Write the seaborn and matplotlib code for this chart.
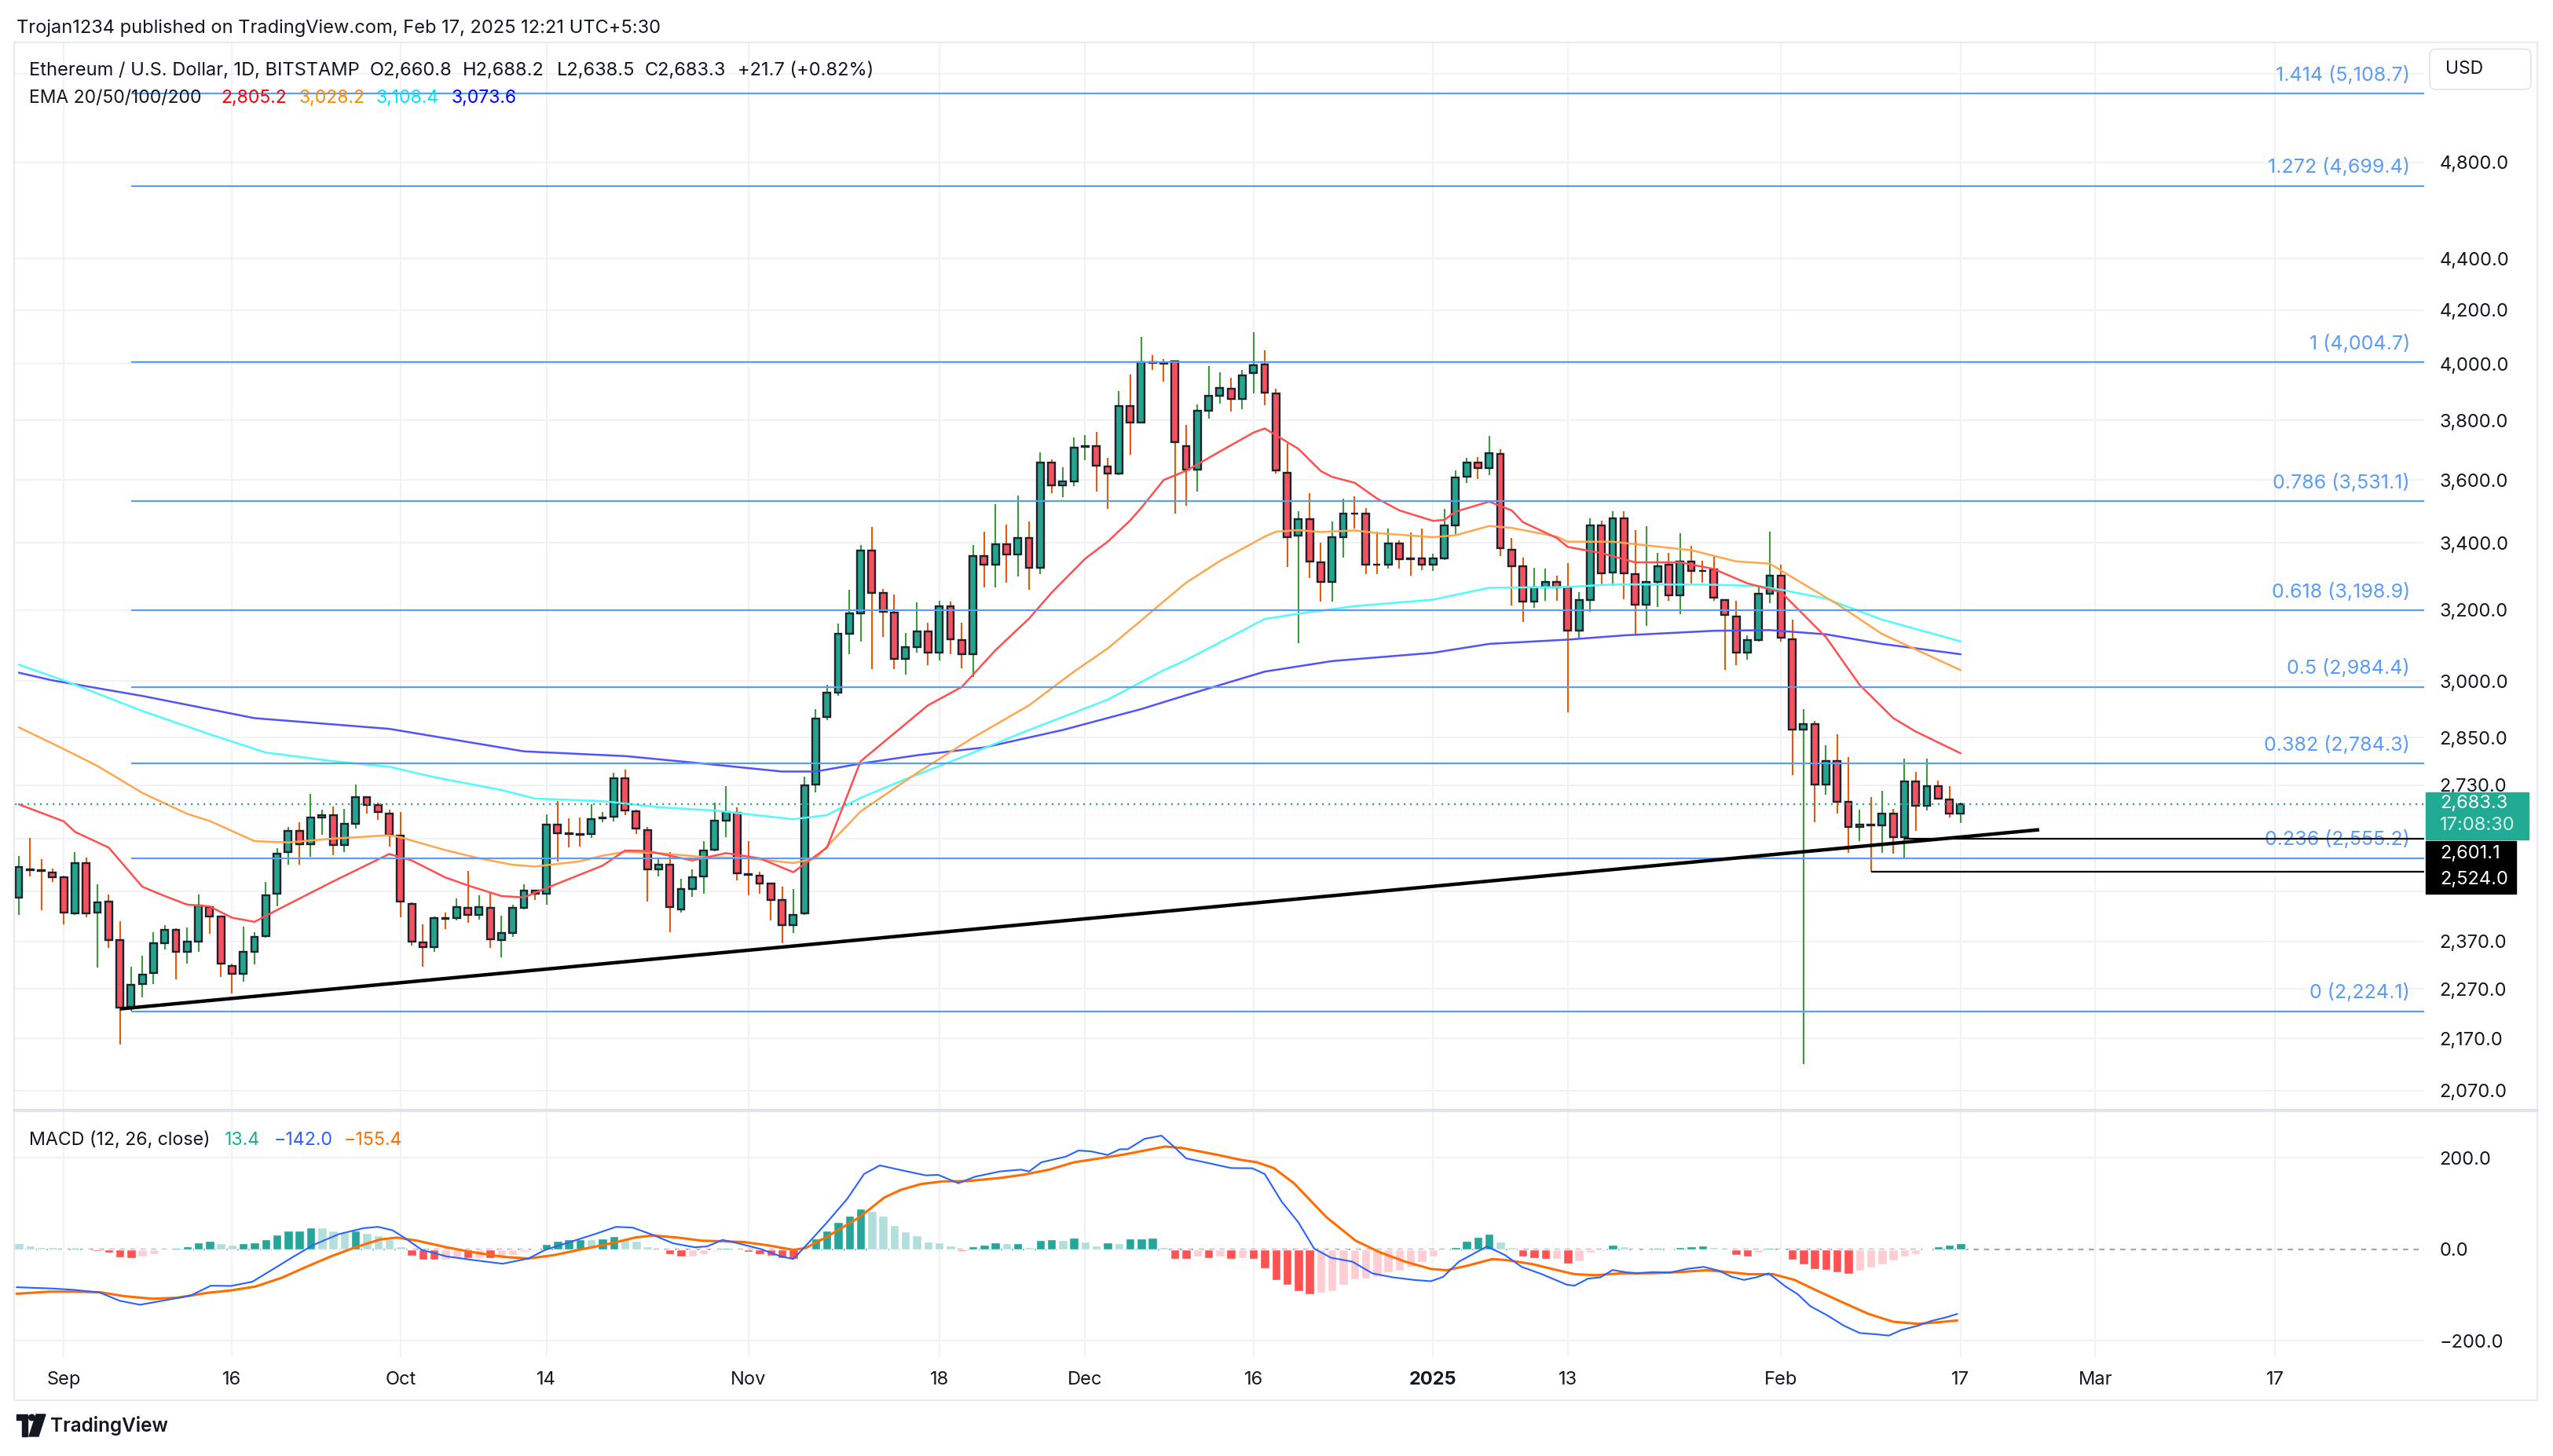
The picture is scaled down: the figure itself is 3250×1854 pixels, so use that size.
import numpy as np
import pandas as pd
import matplotlib
matplotlib.use("Agg")
import matplotlib.pyplot as plt
import matplotlib.transforms as mtransforms
from matplotlib.patches import Rectangle, FancyBboxPatch, Polygon, Circle
from matplotlib.lines import Line2D
from matplotlib.ticker import FixedLocator, NullLocator
import seaborn as sns

# ETH / USD daily candles, 28 Aug 2024 .. 17 Feb 2025
first_day = "2024-08-28"
opens = [2465, 2530, 2528, 2522, 2512, 2430, 2544, 2433, 2456, 2373, 2234, 2280, 2302, 2366, 2395, 2347, 2369,
         2445, 2424, 2318, 2301, 2348, 2381, 2474, 2569, 2619, 2588, 2652, 2656, 2586, 2637, 2700, 2682, 2661,
         2609, 2451, 2367, 2357, 2420, 2420, 2443, 2428, 2443, 2373, 2388, 2443, 2481, 2475, 2634, 2614, 2612,
         2612, 2650, 2653, 2747, 2666, 2622, 2529, 2540, 2440, 2485, 2513, 2575, 2643, 2662, 2519, 2515, 2497,
         2460, 2404, 2430, 2731, 2904,
         2968, 3131, 3189, 3378, 3249, 3193, 3061, 3093, 3138, 3079, 3211, 3113, 3074, 3361, 3335, 3397, 3365,
         3415, 3324, 3658, 3583, 3596,
         3710, 3712, 3645, 3620, 3849, 3792, 4005, 4002, 4008, 3713, 3634, 3833, 3884, 3910, 3875, 3965, 3997,
         3894, 3624, 3423, 3474, 3342, 3283, 3419, 3493, 3493, 3335, 3333, 3399, 3352, 3352,
         3333, 3353, 3454, 3610, 3658, 3638, 3686, 3380, 3329, 3224, 3267, 3283, 3266,
         3141, 3230, 3455, 3310, 3477, 3305, 3216, 3283, 3334, 3243, 3343, 3316, 3320, 3230, 3182, 3078, 3113,
         3248, 3301, 3117, 2872, 2885, 2732, 2790, 2689, 2628, 2635, 2632, 2661, 2604, 2740, 2679, 2728, 2695,
         2661]
highs = [2560, 2603, 2553, 2532, 2516, 2570, 2556, 2496, 2472, 2413, 2316, 2339, 2390, 2405, 2398, 2400, 2472,
         2447, 2426, 2323, 2402, 2390, 2501, 2578, 2628, 2639, 2709, 2670, 2678, 2672, 2732, 2703, 2688, 2671,
         2665, 2455, 2406, 2423, 2432, 2463, 2526, 2470, 2476, 2425, 2450, 2496, 2483, 2658, 2692, 2650, 2652,
         2683, 2665, 2760, 2768, 2670, 2628, 2553, 2570, 2508, 2529, 2596, 2688, 2727, 2675, 2596, 2524, 2499,
         2491, 2485, 2752, 2925, 2990,
         3161, 3260, 3394, 3450, 3262, 3245, 3134, 3222, 3163, 3226, 3224, 3163, 3393, 3434, 3523, 3458, 3550,
         3466, 3690, 3668, 3641, 3741,
         3749, 3760, 3672, 3902, 3961, 4097, 4031, 4017, 4010, 3785, 3856, 3992, 3970, 3950, 3978, 4116, 4048,
         3911, 3721, 3499, 3557, 3402, 3466, 3539, 3546, 3510, 3436, 3445, 3409, 3432, 3446,
         3368, 3508, 3630, 3673, 3676, 3747, 3703, 3416, 3356, 3325, 3321, 3301, 3338,
         3253, 3477, 3470, 3500, 3500, 3440, 3452, 3369, 3369, 3431, 3391, 3346, 3359, 3232, 3226, 3128, 3269,
         3435, 3334, 3171, 2925, 2893, 2831, 2858, 2800, 2671, 2700, 2716, 2672, 2797, 2762, 2797, 2742, 2727,
         2688]
lows = [2427, 2514, 2437, 2500, 2406, 2428, 2422, 2314, 2355, 2158, 2225, 2252, 2280, 2352, 2289, 2323, 2347,
        2386, 2294, 2261, 2285, 2320, 2378, 2447, 2540, 2540, 2558, 2610, 2563, 2569, 2624, 2660, 2645, 2582,
        2422, 2360, 2316, 2347, 2396, 2415, 2410, 2417, 2355, 2336, 2380, 2440, 2460, 2450, 2547, 2580, 2582,
        2602, 2640, 2642, 2657, 2611, 2456, 2514, 2390, 2433, 2468, 2475, 2571, 2605, 2505, 2470, 2475, 2415,
        2365, 2388, 2428, 2712, 2895,
        2960, 3074, 3110, 3032, 3122, 3032, 3018, 3079, 3043, 3057, 3074, 3036, 3011, 3266, 3266, 3280, 3299,
        3259, 3305, 3558, 3545, 3579,
        3666, 3562, 3508, 3615, 3684, 3790, 3977, 3934, 3492, 3516, 3561, 3806, 3858, 3830, 3838, 3894, 3851,
        3622, 3328, 3104, 3295, 3224, 3224, 3356, 3445, 3305, 3305, 3323, 3322, 3300, 3317,
        3315, 3349, 3429, 3590, 3603, 3615, 3361, 3213, 3165, 3205, 3226, 3226, 2917,
        3120, 3195, 3270, 3270, 3232, 3130, 3154, 3208, 3226, 3188, 3277, 3280, 3226, 3030, 3043, 3058, 3109,
        3220, 3109, 2755, 2120, 2640, 2707, 2661, 2568, 2595, 2524, 2568, 2565, 2555, 2620, 2668, 2694, 2652,
        2638]
closes = [2535, 2528, 2526, 2512, 2433, 2544, 2430, 2455, 2373, 2231, 2278, 2299, 2366, 2395, 2347, 2369, 2448,
          2424, 2323, 2301, 2347, 2380, 2470, 2566, 2620, 2588, 2651, 2656, 2586, 2636, 2700, 2682, 2664, 2610,
          2456, 2370, 2357, 2420, 2418, 2445, 2428, 2444, 2374, 2388, 2443, 2481, 2475, 2634, 2614, 2612, 2610,
          2648, 2652, 2747, 2669, 2624, 2529, 2540, 2444, 2484, 2511, 2573, 2643, 2664, 2520, 2517, 2498, 2460,
          2404, 2427, 2730, 2900, 2968,
          3131, 3189, 3378, 3249, 3195, 3061, 3093, 3138, 3079, 3211, 3115, 3074, 3361, 3335, 3397, 3364, 3415,
          3324, 3658, 3583, 3596, 3708,
          3712, 3646, 3620, 3849, 3793, 4005, 4004, 4000, 3726, 3634, 3833, 3884, 3912, 3875, 3958, 3994, 3897,
          3630, 3419, 3474, 3344, 3283, 3419, 3493, 3492, 3335, 3333, 3399, 3351, 3350, 3335,
          3353, 3454, 3607, 3658, 3638, 3688, 3384, 3330, 3224, 3267, 3283, 3267, 3141,
          3230, 3455, 3307, 3477, 3307, 3216, 3283, 3330, 3243, 3343, 3316, 3314, 3235, 3186, 3078, 3113, 3248,
          3301, 3120, 2872, 2886, 2732, 2790, 2690, 2628, 2635, 2632, 2661, 2604, 2740, 2679, 2727, 2696, 2661,
          2683]

# EMA lines, sampled points (day = days after 1 Sep 2024)
ema20_day = [-4, 0, 1, 4, 7, 9, 11, 13, 15, 17, 19, 24, 29, 31, 34, 36, 39, 41, 43, 48, 50, 52, 56, 59, 62, 65,
             68, 71, 77, 80, 83, 86, 88, 91, 93, 95, 96, 98, 100, 103, 106, 107, 110, 112, 113, 115, 117, 119,
             122, 123, 124, 127, 129, 130, 133, 134, 137, 140, 144, 147, 150, 153, 157, 160, 163, 165, 169]
ema20 = [2683, 2642, 2617, 2580, 2490, 2469, 2450, 2446, 2421, 2412, 2438, 2502, 2565, 2550, 2511, 2493, 2469,
         2466, 2487, 2538, 2573, 2572, 2550, 2567, 2555, 2523, 2580, 2790, 2935, 2984, 3085, 3175, 3250, 3352,
         3404, 3470, 3510, 3600, 3630, 3694, 3758, 3772, 3703, 3629, 3610, 3591, 3540, 3502, 3469, 3472, 3498,
         3530, 3502, 3465, 3416, 3388, 3369, 3341, 3341, 3321, 3278, 3252, 3122, 2990, 2901, 2866, 2810]
ema50_day = [-4, 0, 3, 7, 11, 13, 17, 20, 24, 29, 30, 34, 37, 40, 42, 46, 48, 50, 53, 57, 61, 65, 67, 71, 76, 81,
             86, 90, 93, 96, 98, 100, 103, 107, 108, 110, 112, 115, 117, 122, 124, 127, 129, 133, 134, 138, 145,
             149, 152, 154, 158, 162, 169]
ema50 = [2877, 2821, 2778, 2711, 2660, 2643, 2595, 2592, 2601, 2609, 2604, 2574, 2555, 2540, 2536, 2548, 2561,
         2570, 2567, 2558, 2555, 2544, 2555, 2666, 2760, 2850, 2935, 3026, 3090, 3170, 3225, 3280, 3345, 3420,
         3435, 3440, 3434, 3439, 3431, 3418, 3424, 3453, 3447, 3420, 3404, 3404, 3378, 3344, 3337, 3296, 3217,
         3131, 3030]
ema100_day = [-4, 0, 7, 13, 18, 24, 29, 33, 39, 42, 48, 53, 58, 65, 68, 71, 75, 80, 86, 93, 98, 100, 107, 110,
              115, 122, 127, 134, 138, 147, 151, 153, 157, 162, 169]
ema100 = [3045, 3002, 2920, 2859, 2812, 2790, 2776, 2750, 2718, 2697, 2691, 2676, 2668, 2647, 2657, 2699, 2745,
          2800, 2870, 2950, 3030, 3058, 3174, 3189, 3211, 3230, 3265, 3267, 3275, 3274, 3270, 3259, 3233, 3172,
          3110]
ema200_day = [-4, -1, 7, 17, 29, 41, 50, 57, 64, 67, 71, 76, 82, 89, 96, 100, 107, 113, 122, 127, 134, 139, 147,
              152, 157, 162, 169]
ema200 = [3023, 3002, 2960, 2901, 2873, 2815, 2803, 2784, 2764, 2764, 2784, 2805, 2825, 2870, 2925, 2962, 3026,
          3055, 3078, 3103, 3115, 3127, 3140, 3142, 3130, 3103, 3074]

# Fibonacci retracement levels
fib_ratio = [1.414, 1.272, 1, 0.786, 0.618, 0.5, 0.382, 0.236, 0]
fib_price = [5108.7, 4699.4, 4004.7, 3531.1, 3198.9, 2984.4, 2784.3, 2555.2, 2224.1]
fib_start = "2024-09-07"

# trend line and horizontal levels
trend_dates = ["2024-09-06", "2025-02-24"]
trend_price = [2229, 2622]
level_price = [2601.1, 2524.0]
level_start = ["2025-02-12", "2025-02-09"]
last_price = 2683.3

# MACD (12, 26, close)
hist = [12.6, 6.9, 5, 4, -3.4, 2.9, -2.9, -4, -7.4, -17.7,
        -18.9, -16, -10.3, -2, 3.4, 5.7, 14.3, 17.7, 13.7, 10.3,
        12.6, 15.4, 21.1, 32, 40, 41.1, 46.8, 46.8, 41.1, 36.6,
        40, 35.4, 29.7, 21.1, 5.7, -14.3, -22.9, -24, -22.9, -18.9,
        -20, -18.9, -20, -17.7, -13.7, -5.7, 1, 11.4, 18.3, 21.1,
        22.3, 22.3, 24, 28.6, 24, 18.3, 5.7, -2.9, -11.4, -17.1,
        -17.1, -11.4, -4.6, 2.9, -2.9, -6.3, -10.3, -14.9, -20, -20.6,
        1.1, 24, 41.1, 59.4, 73.7, 88.6, 84, 73.7, 52.6, 38.3,
        29.7, 16.6, 15.4, 6.9, -4.6, 5.7, 9.7, 14.3, 12.6, 13.7,
        4, 20, 21.1, 19.4, 25.1, 16.6, 8, 14.3, 12.6, 22.9,
        24, 25.1, 4, -20.6, -21.7, -16, -18.9, -16, -21.7, -18.9,
        -20.6, -41.7, -67.4, -78.9,
        -91.4, -98.9, -95, -91.4, -77.7, -66.3, -64.6, -61.7, -51.4, -47.4,
        -38.9, -28.6, -16, -2.3, 4, 18.3, 26.9, 33.7, 16.6, 4,
        -16, -20, -21.7, -21.7, -31.4, -27.4, -7.4, -4.6, 9.7, 5.7,
        -2.3, -1.1, 2.9, 1.1, 4, 5.7, 8, 4, -3.4, -13.7,
        -16, -7.4, 2.9, -3.4, -22.9, -33.1, -44.6, -46.3, -51.4, -54.9,
        -47.4, -40, -33.1, -24.6, -16, -10.3, 1.7, 5.7, 9.7, 13.4]
macd_day = [-4.2, -0.9, 0.9, 3.2, 5.0, 6.8, 9.0, 11.3, 13.1, 14.9, 16.8, 18.6, 20.5, 22.3, 24.5, 26.7, 28.0,
            29.3, 30.4, 31.9, 34.1, 36.3, 39.1, 41.4, 42.9, 45.1, 47.3, 49.2, 50.7, 52.5, 54.3, 56.2, 57.3, 58.7,
            59.9, 62.1, 63.9, 65.0, 66.1, 68.0, 69.8, 71.3, 72.7, 74.6, 76.8, 77.9, 79.7, 81.2, 83.4, 85.3, 86.0,
            87.1, 89.3, 90.4, 91.5, 93.0, 94.1, 94.8, 96.3, 97.8, 98.9, 100.0, 102.2, 104.0, 105.9, 107.0, 108.5,
            110.0, 111.4, 112.9, 114.8, 116.6, 118.4, 120.3, 121.8, 122.9, 124.3, 126.8, 128.4, 129.9, 131.7,
            133.9, 134.6, 135.8, 136.9, 138.0, 139.1, 140.2, 141.6, 143.1, 144.6, 146.1, 147.5, 148.6, 149.7,
            150.8, 151.9, 153.4, 154.5, 155.6, 157.1, 158.6, 160.0, 161.5, 162.6, 163.7, 165.2, 166.3, 167.8,
            168.7]
macd_line = [-83.4, -86.3, -89.1, -94.9, -113.1, -121.7, -112, -101.7, -80, -80.6, -71.4, -44.6, -16, 9.7, 32.6,
             45.7, 48.6, 41.1, 24, -1.7, -16, -23.4, -32, -20.6, -1.7, 15.4, 32.6, 48.6, 46.9, 30.9, 12.6, 4,
             5.7, 20, 13.7, 0, -16, -21.7, 6.9, 58.3, 109.7, 164, 182.9, 172.6, 161.1, 162.3, 144, 158.3, 169.7,
             173.7, 169.7, 189.7, 202.3, 215.4, 213.7, 205.7, 218.3, 218.3, 241.1, 248, 224, 198.3, 186.9, 177.1,
             176.6, 164, 104, 58.3, 1.1, -18.9, -27.4, -53.1, -61.7, -67.4, -70.3, -60.6, -27.4, 5.7, -13.1,
             -38.9, -54.9, -77.7, -80, -64.6, -61.7, -45.7, -50.3, -53.1, -50.3, -51.4, -43.4, -38.9, -47.4,
             -60.6, -67.4, -61.7, -53.1, -81.7, -98.9, -124.6, -144.6, -167.4, -183.4, -186.3, -189.1, -177.1,
             -167.4, -157.7, -148.6, -141.7]
signal_day = [-4.2, -1.3, 0.9, 3.2, 5.4, 7.9, 10.1, 12.7, 14.9, 17.1, 19.4, 21.6, 23.8, 26.0, 28.2, 29.7, 31.5,
              34.1, 36.3, 39.2, 41.4, 43.7, 45.9, 48.8, 51.0, 52.5, 54.7, 56.9, 58.7, 60.6, 62.8, 65.0, 66.1,
              68.0, 70.9, 73.1, 74.6, 76.4, 78.3, 80.5, 83.4, 85.6, 87.8, 90.0, 92.3, 94.5, 96.3, 98.1, 99.6,
              102.6, 104.8, 106.3, 107.8, 109.6, 112.5, 115.1, 117.3, 119.5, 121.8, 123.2, 125.1, 127.3, 128.7,
              130.9, 132.8, 134.6, 136.5, 138.7, 141.6, 143.9, 146.4, 148.3, 150.1, 152.3, 154.2, 156.4, 158.6,
              160.8, 163.0, 165.2, 167.0, 168.7]
signal_line = [-97.7, -93.1, -93.1, -94.3, -102.9, -108.6, -106.3, -96, -90.3, -81.7, -62.9, -38.9, -16, 4, 21.1,
               25.1, 18.3, 4, -6.3, -17.1, -20.6, -13.1, -1.7, 12.6, 25.7, 29.7, 25.1, 18.3, 17.1, 15.4, 8, -1.7,
               2.3, 26.9, 69.7, 112.6, 129.7, 142.3, 148, 148.6, 155.4, 162.9, 173.7, 189.7, 198.3, 206.9, 215.4,
               224, 221.1, 206.9, 195.4, 189.7, 177.1, 144, 69.7, 18.3, -7.4, -27.4, -43.4, -46.3, -36, -21.7,
               -24.6, -33.1, -44.6, -54.9, -57.1, -53.1, -52.6, -50.3, -46.3, -50.3, -54.9, -54.9, -67.4, -93.1,
               -117.7, -141.7, -158.9, -163.4, -160, -156]

# axis ticks
price_ticks = [5200, 4800, 4400, 4200, 4000, 3800, 3600, 3400, 3200, 3000, 2850, 2730, 2600, 2480, 2370, 2270,
               2170, 2070]
price_hidden = [5200, 2600, 2480]
date_ticks = ["2024-09-01", "2024-09-16", "2024-10-01", "2024-10-14", "2024-11-01", "2024-11-18", "2024-12-01",
              "2024-12-16", "2025-01-01", "2025-01-13", "2025-02-01", "2025-02-17", "2025-03-01", "2025-03-17"]
date_labels = ["Sep", "16", "Oct", "14", "Nov", "18", "Dec", "16", "2025", "13", "Feb", "17", "Mar", "17"]

# ---------------------------------------------------------------------------
sns.set_style("white")
plt.rcParams["font.family"] = ["Inter", "DejaVu Sans"]

TXT = "#131722"
GRID = "#f0f2f6"
FIB = "#5b9cf6"
UP_BODY, DN_BODY = "#22a58c", "#f5525f"
UP_WICK, DN_WICK = "#3c9a3c", "#e8590c"
EDGE = "#1e222d"

W, H = 3250, 1854
fig = plt.figure(figsize=(W / 100, H / 100), dpi=100)
fig.patch.set_facecolor("white")


def px(x, y):
    return (x, H - y)


L, R, T_, SEP, B = 19, 3086, 54, 1414, 1728
ax = fig.add_axes([L / W, 1 - SEP / H, (R - L) / W, (SEP - T_) / H])
axm = fig.add_axes([L / W, 1 - B / H, (R - L) / W, (B - SEP) / H], sharex=ax)

origin = pd.Timestamp("2024-09-01")
dates = pd.date_range(first_day, periods=len(closes), freq="D")
day = np.asarray((dates - origin).days)


def to_day(d):
    return np.asarray((pd.to_datetime(d) - origin).days)


o, h, l, c = map(np.asarray, (opens, highs, lows, closes))
up = c >= o

# candles
ax.vlines(day, l, h, colors=np.where(up, UP_WICK, DN_WICK), lw=1.5, zorder=2)
ax.bar(day, np.abs(c - o), bottom=np.minimum(o, c), width=0.62,
       color=np.where(up, UP_BODY, DN_BODY), edgecolor=EDGE, linewidth=1.7, zorder=3)

# EMAs
for xs, ys, col in [(ema200_day, ema200, "#5252ff"), (ema100_day, ema100, "#52fafa"),
                    (ema50_day, ema50, "#ffa64f"), (ema20_day, ema20, "#ff4f4f")]:
    sns.lineplot(x=xs, y=ys, ax=ax, color=col, lw=1.8, zorder=4)

ax.set_yscale("log")
x_lo, x_hi = -4.35, 210.3
ax.set_xlim(x_lo, x_hi)
ax.set_ylim(2033, 5352)

# fib levels
yblend = mtransforms.blended_transform_factory(ax.transAxes, ax.transData)
fs = to_day(fib_start).item()
ax.hlines(fib_price, fs, x_hi, color=FIB, lw=1.6, zorder=5)
for r, p in zip(fib_ratio, fib_price):
    ax.annotate(f"{r:g} ({p:,.1f})", xy=(1, p), xycoords=yblend, xytext=(-13, 17),
                textcoords="offset points", ha="right", va="center", color=FIB, fontsize=18, zorder=6)

# trend line, levels, last price
ax.plot(to_day(trend_dates), trend_price, color="black", lw=3.2, solid_capstyle="butt", zorder=6)
for p, s in zip(level_price, level_start):
    ax.hlines(p, to_day(s).item(), x_hi, color="black", lw=1.6, zorder=6)
ax.axhline(last_price, color="#22ab94", lw=1.6, ls=(0, (1, 2.6)), zorder=5)

# price axis
ax.yaxis.set_major_locator(FixedLocator(price_ticks))
ax.yaxis.set_minor_locator(NullLocator())
ax.set_yticklabels(["" if t in price_hidden else f"{t:,.1f}" for t in price_ticks])
ax.yaxis.tick_right()
ax.tick_params(axis="y", length=0, pad=14, labelsize=17, labelcolor=TXT)
ax.set_xticks(to_day(date_ticks))
ax.tick_params(axis="x", length=0, labelbottom=False)
ax.grid(True, color=GRID, lw=1.4)
ax.set_axisbelow(True)
for sp in ax.spines.values():
    sp.set_visible(False)
ax.set_xlabel("")
ax.set_ylabel("")

# MACD pane
hv = np.asarray(hist)
prev = np.concatenate([[hv[0]], hv[:-1]])
hcol = np.where(hv >= 0, np.where(hv > prev, "#26a69a", "#b2dfdb"),
                np.where(hv < prev, "#ff5252", "#ffcdd2"))
axm.bar(day, hv, width=0.8, color=hcol, zorder=2)
axm.axhline(0, color="#a3a6af", lw=1.6, ls=(0, (3, 3)), zorder=1)
for g in (200, -200):
    axm.axhline(g, color=GRID, lw=1.4, zorder=0)
sns.lineplot(x=macd_day, y=macd_line, ax=axm, color="#2962ff", lw=1.5, zorder=4)
sns.lineplot(x=signal_day, y=signal_line, ax=axm, color="#ff6d00", lw=2.2, zorder=3)
axm.set_ylim(-236, 303)
axm.set_xlim(x_lo, x_hi)
axm.set_yticks([200, 0, -200])
axm.set_yticklabels(["200.0", "0.0", "\u2212200.0"])
axm.yaxis.tick_right()
axm.tick_params(axis="y", length=0, pad=14, labelsize=17, labelcolor=TXT)
axm.set_xticks(to_day(date_ticks))
axm.set_xticklabels(date_labels)
axm.tick_params(axis="x", length=0, pad=13, labelsize=17, labelcolor=TXT)
for lab in axm.get_xticklabels():
    if lab.get_text() == "2025":
        lab.set_fontweight("bold")
axm.grid(True, axis="x", color=GRID, lw=1.4)
axm.set_axisbelow(True)
for sp in axm.spines.values():
    sp.set_visible(False)
axm.set_xlabel("")
axm.set_ylabel("")

# frame and pane separator
ident = mtransforms.IdentityTransform()
frame = "#e6e9ef"
for (x0, y0), (x1, y1) in [((18, 54), (3230, 54)), ((18, 54), (18, 1783)), ((3230, 54), (3230, 1783)),
                           ((18, 1783), (3230, 1783))]:
    fig.add_artist(Line2D([x0, x1], [H - y0, H - y1], color=frame, lw=1.5, transform=ident))
fig.add_artist(Line2D([18, 3230], [H - 1414, H - 1414], color="#e0e3eb", lw=3, transform=ident))

# header and legends
fig.text(21 / W, 1 - 36 / H, "Trojan1234 published on TradingView.com, Feb 17, 2025 12:21 UTC+5:30",
         fontsize=17, color=TXT, va="center")
for x, s in [(37, "Ethereum / U.S. Dollar, 1D, BITSTAMP"), (471, "O2,660.8"), (589, "H2,688.2"),
             (709, "L2,638.5"), (821, "C2,683.3"), (939, "+21.7 (+0.82%)")]:
    fig.text(x / W, 1 - 90 / H, s, fontsize=17, color=TXT, va="center")
for x, s, col in [(37, "EMA 20/50/100/200", TXT), (281, "2,805.2", "#ff0000"), (381, "3,028.2", "#ff8c00"),
                  (478, "3,108.4", "#00e5ff"), (574, "3,073.6", "#0000ff")]:
    fig.text(x / W, 1 - 125 / H, s, fontsize=16.5, color=col, va="center")
for x, s, col in [(37, "MACD (12, 26, close)", TXT), (286, "13.4", "#22ab94"), (349, "\u2212142.0", "#2962ff"),
                  (438, "\u2212155.4", "#ff6d00")]:
    fig.text(x / W, 1 - 1452 / H, s, fontsize=16.7, color=col, va="center")

# price badges
fig.add_artist(Rectangle(px(3088, 1069.4), 131, 60.8, color="#22ab94", transform=ident, zorder=10))
fig.text(3106 / W, 1 - 1023 / H, "2,683.3", fontsize=17, color="white", va="center", zorder=11)
fig.text(3106 / W, 1 - 1051 / H, "17:08:30", fontsize=17, color="#d4f1eb", va="center", zorder=11)
fig.add_artist(Rectangle(px(3088, 1137.8), 115, 67, color="black", transform=ident, zorder=10))
fig.text(3106 / W, 1 - 1087 / H, "2,601.1", fontsize=17, color="white", va="center", zorder=11)
fig.text(3106 / W, 1 - 1120 / H, "2,524.0", fontsize=17, color="white", va="center", zorder=11)

# USD button
fig.add_artist(FancyBboxPatch(px(3093, 113.8), 129, 51.3, boxstyle="round,pad=0,rounding_size=8",
                              fc="white", ec="#e0e3eb", lw=1.2, transform=ident, zorder=10))
fig.text(3137 / W, 1 - 88 / H, "USD", fontsize=16.5, color=TXT, ha="center", va="center", zorder=11)

# TradingView footer
fig.add_artist(Polygon([px(21, 1801), px(35, 1801), px(35, 1829), px(28, 1829), px(28, 1808), px(21, 1808)],
                       closed=True, color=TXT, transform=ident))
fig.add_artist(Circle(px(40.5, 1805), 3.8, color=TXT, transform=ident))
fig.add_artist(Polygon([px(46, 1801), px(58, 1801), px(49, 1829), px(37, 1829)], closed=True, color=TXT,
                       transform=ident))
fig.text(64 / W, 1 - 1815 / H, "TradingView", fontsize=17.5, color=TXT, va="center", fontweight="semibold")

fig.savefig("out.png", dpi=100, facecolor="white")
